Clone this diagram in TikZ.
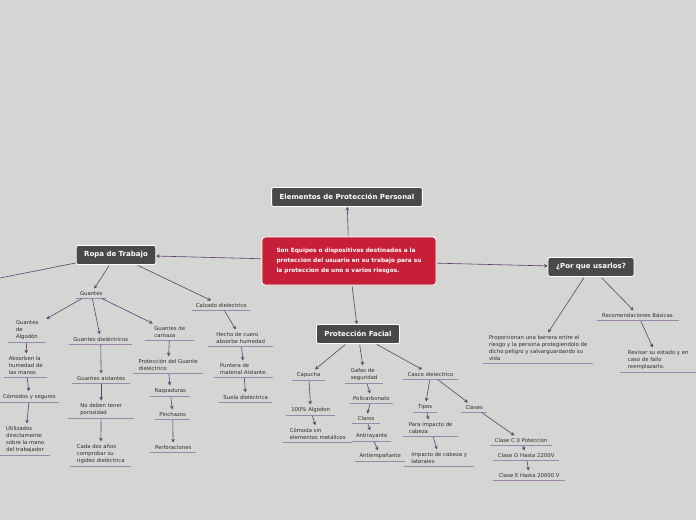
\documentclass[tikz,border=0pt]{standalone}
\usepackage{fontspec}
\setmainfont{DejaVu Sans}
\usepackage{xcolor}
\usetikzlibrary{arrows.meta,positioning}

\definecolor{fondo}{HTML}{D4D6D3}
\definecolor{oscuro}{HTML}{4A4947}
\definecolor{rojo}{HTML}{C81F38}
\definecolor{morado}{HTML}{5E3D75}
\definecolor{subraya}{HTML}{9C86AE}
\definecolor{texto}{HTML}{2E2E2E}

\tikzset{
  tema/.style={draw=white, line width=0.8pt, rounded corners=2pt, fill=oscuro, text=white,
    font=\bfseries\fontsize{7}{8}\selectfont, inner xsep=8pt, minimum height=19pt},
  central/.style={draw=white, line width=0.9pt, rounded corners=3pt, fill=rojo, text=white,
    font=\bfseries\fontsize{5.8}{10.4}\selectfont, align=left, minimum width=174pt, minimum height=48pt},
  hoja/.style={anchor=south west, text=texto, font=\fontsize{5.35}{7}\selectfont,
    align=left, inner xsep=3pt, inner ysep=2.5pt},
  enlace/.style={draw=morado, line width=0.6pt, shorten <=1pt, -{Stealth[length=3.6pt,width=3.6pt]}},
  raya/.style={draw=subraya, line width=0.9pt}
}

\begin{document}
\begin{tikzpicture}[x=1pt,y=-1pt]
        \useasboundingbox[fill=fondo] (0,0) rectangle (696,520);
        % Nodos principales
        \node[central] (equipos) at (349,261) {Son Equipos o dispositivos destinados a la\\proteccion del usuario en su trabajo para su\\la proteccion de uno o varios riesgos.};
        \node[tema] (titulo) at (347,197) {Elementos de Protección Personal};
        \node[tema] (ropa) at (116,255) {Ropa de Trabajo};
        \node[tema] (porque) at (591,267) {¿Por que usarlos?};
        \node[tema] (facial) at (358,334) {Protección Facial};
        \coordinate (fuera) at (0,278);

        % Ropa de trabajo
        \node[hoja, minimum width=30pt] (guantes) at (76,298) {Guantes};
        \node[hoja, minimum width=58pt] (calzado) at (192,310) {Calzado dielectrico};
        \node[hoja, minimum width=38pt] (algodon) at (8,342) {Guantes\\de\\Algodón};
        \node[hoja, minimum width=63pt] (dielec) at (69,344) {Guantes dieléctricos};
        \node[hoja, minimum width=49pt] (carnaza) at (145,340) {Guantes de\\carnaza};
        \node[hoja, minimum width=43pt] (absorben) at (4,377) {Absorben la\\humedad de\\las manos};
        \node[hoja, minimum width=55pt] (comodos) at (0,402) {Cómodos y seguros};
        \node[hoja, minimum width=50pt] (utilizados) at (0,455) {Utilizados\\directamente\\sobre la mano\\del trabajador};
        \node[hoja, minimum width=58pt] (aislantes) at (72,383) {Guantes aislantes};
        \node[hoja, minimum width=66pt] (porosidad) at (68,418) {No deben tener\\porosidad};
        \node[hoja, minimum width=61pt] (cadados) at (70,466) {Cada dos años\\comprobar su\\rigidez dieléctrica};
        \node[hoja, minimum width=70pt] (protguante) at (133,373) {Protección del Guante\\dieléctrico};
        \node[hoja, minimum width=40pt] (raspaduras) at (150,396) {Raspaduras};
        \node[hoja, minimum width=35pt] (pinchazos) at (155,419) {Pinchazos};
        \node[hoja, minimum width=46pt] (perforaciones) at (150,452) {Perforaciones};
        \node[hoja, minimum width=65pt] (cuero) at (208,346) {Hecho de cuero\\absorbe humedad};
        \node[hoja, minimum width=59pt] (puntera) at (214,377) {Puntera de\\material Aislante.};
        \node[hoja, minimum width=53pt] (suela) at (219,402) {Suela dieléctrica};

        % Proteccion facial
        \node[hoja, minimum width=33pt] (capucha) at (292,380) {Capucha};
        \node[hoja, minimum width=38pt] (gafas) at (345,383) {Gafas de\\seguridad};
        \node[hoja, minimum width=55pt] (casco) at (403,379) {Casco dielectrico};
        \node[hoja, minimum width=49pt] (cienalgodon) at (286,415) {100\% Algodon};
        \node[hoja, minimum width=69pt] (comoda) at (283,442) {Cómoda sin\\elementos metálicos};
        \node[hoja, minimum width=42pt] (policarbonato) at (350,403) {Policarbonato};
        \node[hoja, minimum width=28pt] (claros) at (352,423) {Claros};
        \node[hoja, minimum width=39pt] (antirayante) at (352,441) {Antirayante};
        \node[hoja, minimum width=50pt] (antiempanante) at (355,461) {Antiempañante};
        \node[hoja, minimum width=24pt] (tipos) at (413,412) {Tipos};
        \node[hoja, minimum width=26pt] (clases) at (461,412) {Clases};
        \node[hoja, minimum width=55pt] (paraimpacto) at (403,436) {Para impacto de\\cabeza};
        \node[hoja, minimum width=70pt] (impacto) at (404,466) {Impacto de cabeza y\\laterales};
        \node[hoja, minimum width=62pt] (clasec) at (490,445) {Clase C 0 Poteccion};
        \node[hoja, minimum width=66pt] (claseg) at (493,460) {Clase G Hasta 2200V};
        \node[hoja, minimum width=72pt] (clasee) at (493,480) {Clase E Hasta 20000 V};

        % Por que usarlos
        \node[hoja, minimum width=110pt] (proporcionan) at (483,363) {Proporcionan una barrera entre el\\riesgo y la persona protegiendolo de\\dicho peligro y salvarguardando su\\vida};
        \node[hoja, minimum width=82pt] (recomendaciones) at (597,320) {Recomendaciones Básicas.};
        \node[hoja, minimum width=76pt] (revisar) at (620,372) {Revisar su estado y en\\caso de fallo\\reemplazarlo.};

        % Subrayados
        \foreach \n in {guantes,calzado,algodon,dielec,carnaza,absorben,comodos,utilizados,aislantes,porosidad,cadados,protguante,raspaduras,pinchazos,perforaciones,cuero,puntera,suela,capucha,gafas,casco,cienalgodon,comoda,policarbonato,claros,antirayante,antiempanante,tipos,clases,paraimpacto,impacto,clasec,claseg,clasee,proporcionan,recomendaciones,revisar}
          \draw[raya] (\n.south west) -- (\n.south east);

        % Conexiones
        \draw[draw=morado, line width=0.6pt] (ropa) -- (fuera);
        \foreach \a/\b in {equipos/titulo,equipos/ropa,equipos/porque,equipos/facial,
          ropa/guantes,ropa/calzado,guantes/algodon,guantes/dielec,guantes/carnaza,
          algodon/absorben,absorben/comodos,comodos/utilizados,dielec/aislantes,aislantes/porosidad,porosidad/cadados,
          carnaza/protguante,protguante/raspaduras,raspaduras/pinchazos,pinchazos/perforaciones,
          calzado/cuero,cuero/puntera,puntera/suela,
          facial/capucha,facial/gafas,facial/casco,capucha/cienalgodon,cienalgodon/comoda,
          gafas/policarbonato,policarbonato/claros,claros/antirayante,antirayante/antiempanante,
          casco/tipos,casco/clases,tipos/paraimpacto,paraimpacto/impacto,clases/clasec,clasec/claseg,claseg/clasee,
          porque/proporcionan,porque/recomendaciones,recomendaciones/revisar}
          \draw[enlace] (\a) -- (\b);
    \end{tikzpicture}
\end{document}
